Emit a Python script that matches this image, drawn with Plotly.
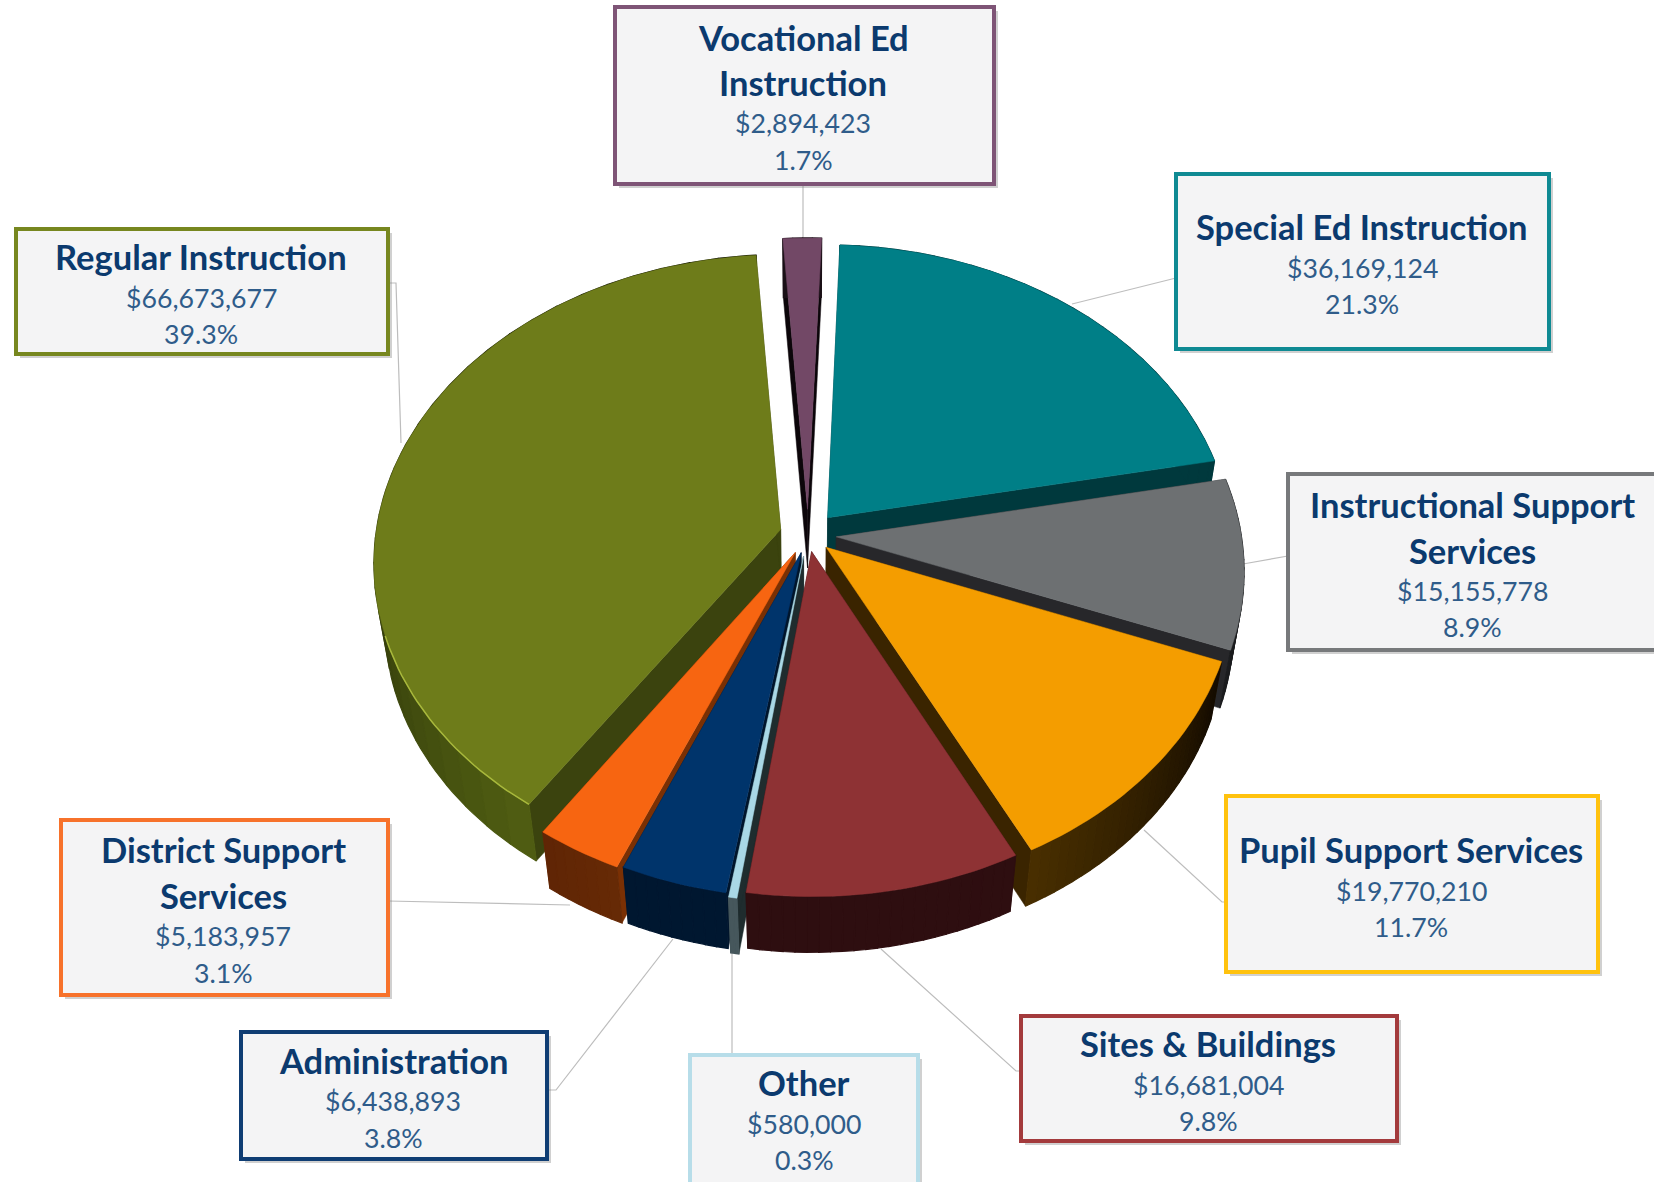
import numpy as np
import plotly.graph_objects as go

# ---- data ----
categories = ["Vocational Ed Instruction", "Special Ed Instruction", "Instructional Support Services",
              "Pupil Support Services", "Sites & Buildings", "Other", "Administration",
              "District Support Services", "Regular Instruction"]
amounts = ["$2,894,423", "$36,169,124", "$15,155,778", "$19,770,210", "$16,681,004",
           "$580,000", "$6,438,893", "$5,183,957", "$66,673,677"]
percents = [1.7, 21.3, 8.9, 11.7, 9.8, 0.3, 3.8, 3.1, 39.3]

# ---- style ----
title_lines = [["Vocational Ed", "Instruction"], ["Special Ed Instruction"], ["Instructional Support", "Services"],
               ["Pupil Support Services"], ["Sites & Buildings"], ["Other"], ["Administration"],
               ["District Support", "Services"], ["Regular Instruction"]]
explode = [0.085, 0.075, 0.07, 0.06, 0.055, 0.07, 0.06, 0.065, 0.07]
top_col = ["#724866", "#007F87", "#6D7072", "#F49D00", "#8E3234", "#A9D8E6", "#00346B", "#F76511", "#6E7C1A"]
cut_col = ["#0C060A", "#00393D", "#27272A", "#3A2400", "#2E0E10", "#1F2C2E", "#00152C", "#7A3004", "#3B430E"]
wall_a = ["#1A1016", "#00393D", "#1B1C1E", "#150C00", "#2E0E10", "#46575C", "#001730", "#662A06", "#4F5C12"]
wall_b = ["#1A1016", "#00393D", "#1B1C1E", "#4A3000", "#2E0E10", "#46575C", "#001730", "#5F2505", "#000000"]
border = ["#7E5476", "#0F8A93", "#77797B", "#FFC20E", "#A33A3C", "#B7DDE9", "#0F3D73", "#F7722B", "#77871F"]
boxes = [(615, 7, 994, 184), (1176, 174, 1549, 349), (1288, 474, 1662, 650), (1226, 796, 1598, 972),
         (1021, 1016, 1397, 1141), (690, 1055, 918, 1186), (241, 1032, 547, 1159), (61, 820, 388, 995),
         (16, 229, 388, 354)]
text_x = [803, 1362, 1472, 1411, 1208, 804, 393, 223, 201]
text_y = [[37, 82, 123, 160], [226, 268, 304], [504, 550, 591, 627], [849, 891, 927], [1043, 1085, 1121],
          [1082, 1124, 1160], [1060, 1101, 1138], [849, 895, 936, 973], [256, 298, 334]]
leaders = [[(803, 184), (803, 243)], [(1176, 278), (1072, 304)], [(1288, 556), (1243, 564)],
           [(1226, 902), (1222, 902), (1144, 830)], [(1021, 1071), (1016, 1071), (881, 949)],
           [(732, 1055), (732, 950)], [(549, 1090), (556, 1090), (673, 939)],
           [(388, 901), (570, 905)], [(388, 283), (396, 283), (401, 443)]]
draw_order = [0, 1, 2, 3, 8, 7, 6, 5, 4]
START_DEG = -3.9
CX, CY, A, B, P, Q, H = 808, 535, 305, 405, 0.105, 0.025, 60


def project(u, v, z=0.0):
    s = 1.0 / (1 + P * v + Q * z)
    return CX + B * u * s, CY + (-A * v + H * z) * s


def hex2rgb(c):
    return np.array([int(c[i:i + 2], 16) for i in (1, 3, 5)], float)


def blend(a, b, t):
    r = hex2rgb(a) * (1 - t) + hex2rgb(b) * t
    return "rgb(%d,%d,%d)" % tuple(r)


def poly(fig, pts, color, name, width=0.5):
    xs = [p[0] for p in pts] + [pts[0][0]]
    ys = [p[1] for p in pts] + [pts[0][1]]
    fig.add_trace(go.Scatter(x=xs, y=ys, mode="lines", fill="toself", fillcolor=color,
                             line=dict(color=color, width=width), name=name,
                             showlegend=False, hoverinfo="skip"))


edges = START_DEG + np.concatenate([[0], np.cumsum(percents)]) * 3.6
fig = go.Figure()

for i in draw_order:
    a0, a1 = np.radians(edges[i]), np.radians(edges[i + 1])
    mid = (a0 + a1) / 2
    eu, ev = explode[i] * np.sin(mid), explode[i] * np.cos(mid)
    n = max(int(np.degrees(a1 - a0) / 1.5), 2)
    th = np.linspace(a0, a1, n + 1)
    us, vs = eu + np.sin(th), ev + np.cos(th)
    # cut faces
    for uu, vv in ((us[0], vs[0]), (us[-1], vs[-1])):
        poly(fig, [project(eu, ev), project(uu, vv), project(uu, vv, 1), project(eu, ev, 1)],
             cut_col[i], categories[i])
    # outer wall, in shaded steps
    step = max(n // 24, 1)
    for k in range(0, n, step):
        e = min(k + step, n)
        pts = [project(us[j], vs[j]) for j in range(k, e + 1)]
        pts += [project(us[j], vs[j], 1) for j in range(e, k - 1, -1)]
        poly(fig, pts, blend(wall_a[i], wall_b[i], k / n), categories[i], width=1.2)
    # top surface
    top = [project(eu, ev)] + [project(u, v) for u, v in zip(us, vs)]
    poly(fig, top, top_col[i], categories[i])

# thin light rim on the front edge of the largest slice
i_reg = categories.index("Regular Instruction")
mid = np.radians((edges[i_reg] + edges[i_reg + 1]) / 2)
eu, ev = explode[i_reg] * np.sin(mid), explode[i_reg] * np.cos(mid)
th = np.radians(np.linspace(edges[i_reg], edges[i_reg] + 36, 30))
rim = [project(eu + np.sin(t), ev + np.cos(t)) for t in th]
fig.add_trace(go.Scatter(x=[p[0] for p in rim], y=[p[1] for p in rim], mode="lines",
                         line=dict(color="#A8B83C", width=1.5), showlegend=False, hoverinfo="skip"))

shapes, annotations = [], []
for pts in leaders:
    path = "M " + " L ".join(f"{x},{y}" for x, y in pts)
    shapes.append(dict(type="path", path=path, line=dict(color="#BDBDBD", width=1.2), layer="below"))

for i, (x0, y0, x1, y1) in enumerate(boxes):
    shapes.append(dict(type="rect", x0=x0 + 4, y0=y0 + 4, x1=x1 + 4, y1=y1 + 4,
                       fillcolor="rgba(120,120,120,0.35)", line=dict(width=0), layer="below"))
    shapes.append(dict(type="rect", x0=x0, y0=y0, x1=x1, y1=y1, fillcolor="#F4F4F5",
                       line=dict(color=border[i], width=4), layer="above"))
    lines = [(t, True) for t in title_lines[i]] + [(amounts[i], False), (f"{percents[i]:.1f}%", False)]
    for (t, bold), y in zip(lines, text_y[i]):
        annotations.append(dict(x=text_x[i], y=y, xref="x", yref="y", text=f"<b>{t}</b>" if bold else t,
                                showarrow=False, xanchor="center", yanchor="middle",
                                font=dict(family="Lato", size=34.5 if bold else 26.7,
                                          color="#0B3A6E" if bold else "#2F5C8A")))

fig.update_layout(width=1654, height=1182, margin=dict(l=0, r=0, t=0, b=0), autosize=False,
                  paper_bgcolor="white", plot_bgcolor="white", showlegend=False,
                  shapes=shapes, annotations=annotations,
                  xaxis=dict(range=[0, 1654], visible=False, fixedrange=True),
                  yaxis=dict(range=[1182, 0], visible=False, fixedrange=True))

fig.write_html("out.html", config={"displayModeBar": False},
               post_script="document.body.style.margin='0';document.body.style.overflow='hidden';")
